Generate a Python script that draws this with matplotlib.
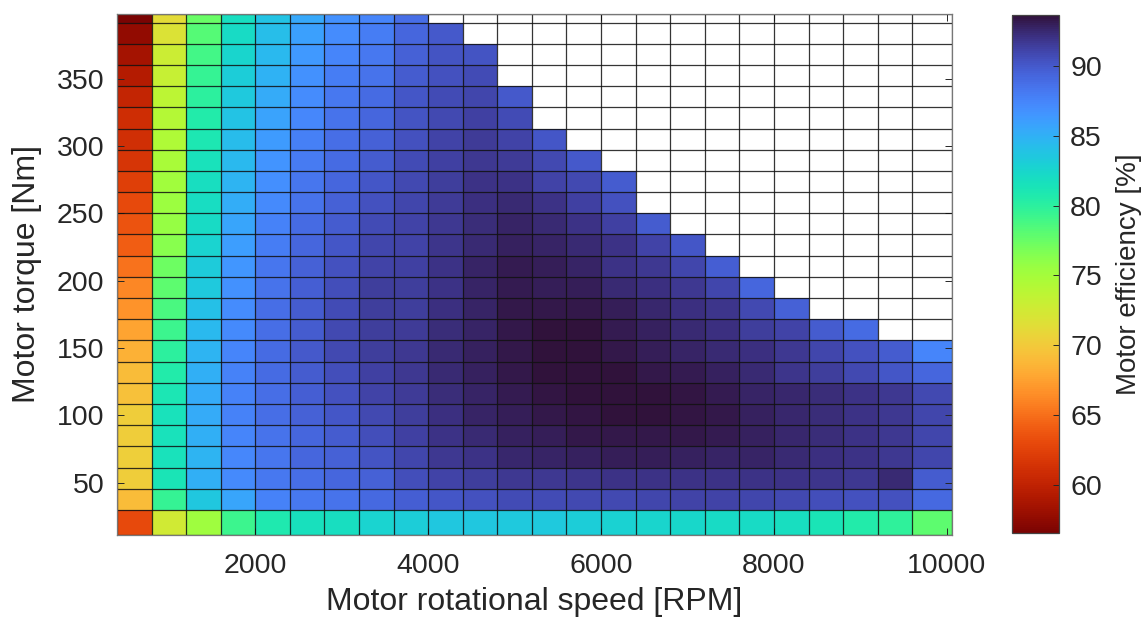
import numpy as np
import matplotlib
matplotlib.use('Agg')
import matplotlib.pyplot as plt

plt.rcParams['font.family'] = ['Liberation Sans', 'DejaVu Sans']
txt_col = '#262626'

# grid of the efficiency map (pcolor style cell edges)
speed_edges = [400, 800, 1200, 1600, 2000, 2400, 2800, 3200, 3600, 4000, 4400, 4800,
               5200, 5600, 6000, 6400, 6800, 7200, 7600, 8000, 8400, 8800, 9200, 9600, 10060]
torque_edges = [11.2, 29.8, 45.5, 61.3, 77.0, 92.7, 108.5, 124.2, 139.9, 155.6, 171.4,
                187.1, 202.8, 218.6, 234.3, 250.0, 265.8, 281.5, 297.2, 312.9, 328.7,
                344.4, 360.1, 375.9, 391.6, 398.0]

# motor efficiency [%], one row per torque band (lowest torque first),
# each row runs from the lowest speed up to the last operable speed
eff_rows = [
    [63.0, 72.5, 75.3, 79.2, 80.9, 81.7, 81.9, 82.7, 83.2, 83.6, 83.6, 83.4, 83.4, 83.2, 82.9, 82.6, 82.4, 82.2, 82.1, 81.9, 81.3, 80.6, 79.8, 78.0],
    [69.0, 79.5, 83.6, 85.7, 87.6, 88.2, 88.6, 89.1, 89.7, 90.1, 90.5, 90.7, 90.7, 90.8, 90.9, 91.0, 91.1, 91.2, 91.0, 90.8, 90.6, 90.4, 90.4, 89.1],
    [70.2, 81.3, 85.0, 87.2, 88.2, 88.8, 89.2, 89.5, 90.6, 91.1, 91.5, 91.8, 91.8, 91.9, 92.0, 92.1, 92.1, 92.1, 92.0, 92.0, 91.9, 91.8, 92.5, 89.8],
    [70.4, 81.5, 84.7, 87.4, 88.4, 89.2, 89.6, 90.3, 91.0, 91.7, 92.1, 92.6, 92.7, 92.9, 93.0, 93.0, 92.9, 92.8, 92.7, 92.5, 92.2, 92.0, 91.7, 91.0],
    [70.3, 81.5, 85.0, 87.5, 88.5, 89.3, 89.9, 90.6, 91.3, 92.0, 92.5, 92.9, 93.1, 93.3, 93.4, 93.4, 93.4, 93.2, 92.9, 92.6, 92.3, 92.0, 91.7, 91.0],
    [70.2, 81.5, 85.4, 87.6, 88.8, 89.5, 90.2, 90.9, 91.5, 92.2, 92.7, 93.1, 93.3, 93.5, 93.6, 93.6, 93.5, 93.3, 92.9, 92.6, 92.3, 92.0, 91.8, 91.0],
    [69.4, 81.1, 85.4, 87.7, 88.9, 89.7, 90.4, 91.1, 91.6, 92.3, 92.8, 93.2, 93.5, 93.6, 93.7, 93.7, 93.5, 93.2, 92.8, 92.6, 92.3, 92.0, 91.7, 90.9],
    [69.0, 80.5, 85.0, 87.6, 89.0, 89.9, 90.6, 91.3, 91.7, 92.4, 92.9, 93.4, 93.6, 93.7, 93.6, 93.4, 93.2, 92.9, 92.5, 91.9, 91.5, 90.9, 90.2, 89.3],
    [68.4, 80.0, 84.8, 87.5, 89.0, 90.0, 90.8, 91.5, 91.7, 92.4, 92.9, 93.4, 93.7, 93.7, 93.3, 93.0, 92.7, 92.4, 92.2, 91.7, 91.0, 90.4, 89.8, 87.5],
    [67.6, 79.3, 84.4, 87.3, 88.9, 89.9, 90.8, 91.5, 91.6, 92.3, 92.8, 93.4, 93.6, 93.6, 93.2, 92.9, 92.5, 92.2, 91.5, 91.1, 89.8, 89.0],
    [66.8, 78.6, 84.0, 87.1, 88.8, 89.8, 90.7, 91.5, 91.5, 92.2, 92.8, 93.3, 93.4, 93.4, 93.0, 92.6, 92.2, 91.9, 90.8, 89.6],
    [66.1, 78.0, 83.5, 86.8, 88.6, 89.7, 90.6, 91.4, 91.4, 92.1, 92.7, 93.2, 93.1, 93.0, 92.5, 92.2, 91.7, 91.0, 89.2],
    [65.2, 77.3, 83.3, 86.5, 88.4, 89.5, 90.4, 91.2, 91.3, 92.0, 92.7, 93.2, 93.0, 92.7, 92.1, 91.7, 91.0, 89.7],
    [64.2, 76.3, 82.8, 86.0, 88.0, 89.3, 90.2, 91.0, 91.2, 91.9, 92.5, 92.9, 92.7, 92.4, 92.0, 91.2, 90.1],
    [63.5, 75.8, 82.2, 85.6, 87.6, 89.0, 89.8, 90.7, 91.1, 91.8, 92.3, 92.7, 92.5, 92.0, 91.3, 89.9],
    [63.0, 75.5, 82.0, 85.2, 87.2, 88.6, 89.6, 90.4, 91.0, 91.6, 92.2, 92.4, 92.0, 91.3, 90.4],
    [62.2, 75.2, 81.8, 84.8, 86.9, 88.4, 89.3, 90.2, 90.9, 91.4, 92.0, 92.0, 91.2, 90.8, 89.9],
    [61.5, 74.8, 81.5, 84.5, 86.6, 88.1, 89.0, 89.9, 90.7, 91.3, 91.8, 91.6, 90.8, 90.0],
    [61.1, 74.5, 81.0, 84.3, 86.2, 87.8, 88.8, 89.6, 90.5, 91.1, 91.6, 91.2, 90.1],
    [60.9, 74.1, 80.5, 83.9, 85.8, 87.4, 88.5, 89.3, 90.3, 90.9, 91.3, 90.7],
    [60.2, 73.7, 80.0, 83.4, 85.3, 87.1, 88.2, 89.0, 90.1, 90.7, 91.0, 90.0],
    [59.4, 73.2, 79.5, 83.1, 84.9, 86.8, 87.9, 88.6, 89.8, 90.5, 90.7],
    [58.5, 72.8, 79.0, 82.6, 84.5, 86.3, 87.5, 88.3, 89.5, 90.3, 90.3],
    [57.6, 71.8, 78.2, 82.1, 84.2, 85.9, 87.1, 87.9, 89.2, 90.0],
    [56.5, 71.3, 77.5, 81.8, 83.9, 85.5, 86.8, 87.5, 88.9],
]

eff_min, eff_max = 56.5, 93.7
cbar_ticks = [60, 65, 70, 75, 80, 85, 90]
x_ticks = [2000, 4000, 6000, 8000, 10000]
y_ticks = [50, 100, 150, 200, 250, 300, 350]

# cells beyond the torque limit stay empty (NaN)
eff = np.full((len(torque_edges) - 1, len(speed_edges) - 1), np.nan)
for i, row in enumerate(eff_rows):
    eff[i, :len(row)] = row
eff = np.ma.masked_invalid(eff)

fig = plt.figure(figsize=(11.48, 6.28), dpi=100)
ax = fig.add_axes([0.1019, 0.1481, 0.7274, 0.8296])
cax = fig.add_axes([0.8813, 0.1508, 0.0412, 0.8258])

mesh = ax.pcolormesh(speed_edges, torque_edges, eff, cmap='turbo_r',
                     vmin=eff_min, vmax=eff_max, edgecolors='none', antialiased=False)
# faceted grid, also over the empty cells
ax.vlines(speed_edges, torque_edges[0], torque_edges[-1], colors='#111111', lw=0.9, alpha=0.85, zorder=3)
ax.hlines(torque_edges, speed_edges[0], speed_edges[-1], colors='#111111', lw=0.9, alpha=0.85, zorder=3)

ax.set_xlim(speed_edges[0], speed_edges[-1])
ax.set_ylim(torque_edges[0], torque_edges[-1])
ax.set_xticks(x_ticks)
ax.set_yticks(y_ticks)
ax.tick_params(direction='in', length=5, width=0.7, color=txt_col, labelcolor=txt_col,
               labelsize=20.5, top=True, right=True)
ax.tick_params(axis='x', pad=13)
ax.tick_params(axis='y', pad=9)
for s in ax.spines.values():
    s.set_color('#777777')
    s.set_linewidth(0.9)
    s.set_zorder(4)

ax.set_xlabel('Motor rotational speed [RPM]', fontsize=23, color=txt_col)
ax.set_ylabel('Motor torque [Nm]', fontsize=23, color=txt_col)
ax.xaxis.set_label_coords(0.5, -0.099)
ax.yaxis.set_label_coords(-0.09, 0.5)

cb = fig.colorbar(mesh, cax=cax)
cb.set_ticks(cbar_ticks)
cb.ax.tick_params(direction='in', length=4, width=0.7, color=txt_col, labelcolor=txt_col,
                  labelsize=20.5, pad=8)
cb.outline.set_edgecolor('#444444')
cb.outline.set_linewidth(0.9)
cb.set_label('Motor efficiency [%]', fontsize=20, color=txt_col)
cb.ax.yaxis.set_label_coords(2.2, 0.5)

fig.savefig('out.png', dpi=100)
